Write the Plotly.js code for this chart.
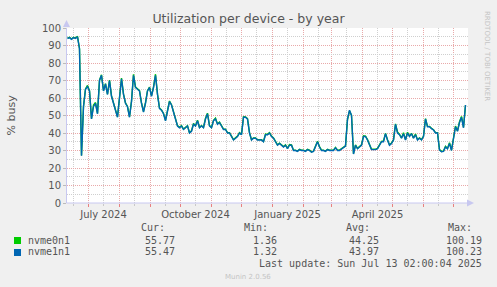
<!DOCTYPE html>
<html><head><meta charset="utf-8">
<script src="https://cdn.plot.ly/plotly-3.0.1.min.js"></script>
<style>html,body{margin:0;padding:0;background:#F0F0F0;overflow:hidden}#chart{width:497px;height:287px}</style>
</head><body><div id="chart"></div>
<script>
// ---- data ----
const seriesNames = ['nvme0n1', 'nvme1n1'];
const seriesColors = ['#00CC00', '#0066B3'];
const startDate = '2024-06-10';
const stepDays = 2;
const nvme1n1 = [
 94, 94.5, 93.5, 94.5, 94, 95, 88, 27, 55, 65,
 66.5, 64, 48, 55, 57, 51, 70, 73, 64, 68,
 62, 70, 61, 57, 52, 49, 60, 71, 62, 57,
 55, 49, 58, 73, 66, 65, 64, 57, 52, 57,
 64, 66, 61, 66, 73, 62, 54, 53, 51, 47,
 52, 58, 56, 52, 48, 44, 43, 44, 42, 43,
 44, 40, 41, 45, 44, 47, 43, 44, 43, 48,
 51, 44, 43, 47, 48, 45, 46, 44, 42, 42,
 40, 40, 38, 36, 37, 38, 40, 39, 49, 49,
 48, 40, 36, 37, 37, 36, 36, 36, 35, 39,
 39, 40, 38, 37, 35, 33, 34, 33, 32, 33,
 31, 33, 33, 30, 30, 29.5, 30.5, 30, 30, 29.5,
 30.5, 30, 29, 29.5, 32, 35, 32, 30, 30, 29.5,
 30.5, 30, 30, 30, 31.5, 30, 30, 31, 32, 32.5,
 48, 53, 50, 28, 33, 31, 32, 33, 38, 38,
 36, 33, 30.5, 30.5, 30.5, 31, 33, 35, 35, 39.6,
 36, 33, 34, 36, 45, 40, 39, 37, 39.6, 36,
 40, 38, 39.6, 37, 39, 36, 37, 36, 38, 48,
 43.6, 43.6, 42.5, 41.7, 40, 40, 30.3, 29.3, 29.5, 32,
 31, 34, 30, 37, 43.6, 41, 46, 49, 43, 56
];
const nvme0n1 = [
 94.2, 94.7, 93.7, 94.7, 94.2, 95.2, 88.3, 27.2, 55.3, 65.2,
 67.2, 64.2, 48.2, 56, 57.4, 51.2, 70.2, 73.3, 64.2, 68.2,
 62.2, 70.3, 61.2, 57.2, 52.2, 49.2, 60.3, 71.4, 62.2, 57.2,
 55.2, 49.2, 58.2, 73.5, 66.2, 65.2, 64.2, 57.2, 52.2, 57.3,
 64.2, 66.2, 61.2, 66.2, 73.6, 62.2, 54.2, 53.2, 51.2, 47.2,
 52.2, 58.3, 56.2, 52.2, 48.2, 44.2, 43.2, 44.2, 42.2, 43.2,
 44.2, 40.2, 41.2, 45.5, 44.2, 47.3, 43.2, 44.2, 43.2, 48.4,
 51.3, 44.2, 43.2, 47.2, 48.5, 45.2, 46.2, 44.2, 42.2, 42.2,
 40.2, 40.2, 38.2, 36.2, 37.2, 38.2, 40.2, 39.2, 49.3, 49.2,
 48.2, 40.2, 36.2, 37.2, 37.2, 36.2, 36.2, 36.2, 35.2, 39.4,
 39.2, 40.2, 38.2, 37.2, 35.2, 33.2, 34.2, 33.2, 32.2, 33.2,
 31.2, 33.4, 33.2, 30.2, 30.2, 29.7, 30.7, 30.2, 30.2, 29.7,
 30.7, 30.2, 29.2, 29.7, 32.2, 35.3, 32.2, 30.2, 30.2, 29.7,
 30.7, 30.2, 30.2, 30.2, 31.8, 30.2, 30.2, 31.2, 32.2, 32.7,
 47.6, 52.7, 50.2, 28.2, 33.2, 31.2, 32.2, 33.2, 38.4, 38.2,
 36.2, 33.2, 30.7, 30.7, 30.7, 31.2, 33.2, 35.2, 35.5, 39.8,
 36.2, 33.2, 34.2, 36.2, 45.2, 40.6, 39.2, 37.2, 40.2, 36.2,
 40.4, 38.2, 39.8, 37.2, 39.4, 36.2, 37.2, 36.2, 38.2, 48.2,
 43.8, 43.8, 42.7, 41.9, 40.2, 40.2, 30.5, 29.5, 29.7, 32.4,
 31.2, 34.4, 30.2, 37.3, 44, 41.2, 46.4, 49.5, 43.2, 55.8
];
const curVals = ['55.77', '55.47'];
const minVals = ['1.36', '1.32'];
const avgVals = ['44.25', '43.97'];
const maxVals = ['100.19', '100.23'];
const statHeaders = ['Cur:', 'Min:', 'Avg:', 'Max:'];
const xLabelDates = ['2024-06-16','2024-07-16','2024-08-16','2024-09-16','2024-10-16','2024-11-16','2024-12-16','2025-01-16','2025-02-16','2025-03-16','2025-04-16','2025-05-16','2025-06-16','2025-07-16'];
const xLabelTexts = ['','July 2024','','','October 2024','','','January 2025','','','April 2025','','',''];
const yTicks = [0,10,20,30,40,50,60,70,80,90,100];
const lastUpdate = 'Last update: Sun Jul 13 02:00:04 2025';
const titleText = 'Utilization per device - by year';

// ---- build ----
const t0 = Date.UTC(2024, 5, 10);
function dateOf(i){ return new Date(t0 + i*stepDays*86400000).toISOString().slice(0,10); }
const dates = nvme1n1.map((_, i) => dateOf(i));

const PL = 67, PR = 468, PT = 28, PB = 203;
const X = px => (px - PL) / (PR - PL);
const Y = py => (PB - py) / (PB - PT);

const traces = [
  {x: dates, y: nvme0n1, type: 'scatter', mode: 'lines', name: seriesNames[0], line: {color: seriesColors[0], width: 1.4}, hoverinfo: 'skip'},
  {x: dates, y: nvme1n1, type: 'scatter', mode: 'lines', name: seriesNames[1], line: {color: seriesColors[1], width: 1.4}, hoverinfo: 'skip'}
];

const txt = '#555555';
const mono = 'DejaVu Sans Mono';
const ann = [];
function A(text, px, py, anchor, opts){
  ann.push(Object.assign({text: text, xref: 'paper', yref: 'paper', x: X(px), y: Y(py), xanchor: anchor, yanchor: 'middle', showarrow: false, borderpad: 0, font: {family: mono, size: 10, color: txt}}, opts || {}));
}
const hdrX = [140, 243, 345, 447];
statHeaders.forEach((h, i) => A(h, hdrX[i], 227.7, 'left'));
const rowY = [240, 251.7];
const valR = [176, 278, 380, 483];
seriesNames.forEach((n, r) => {
  A(n, 27, rowY[r], 'left');
  A(curVals[r], valR[0], rowY[r], 'right');
  A(minVals[r], valR[1], rowY[r], 'right');
  A(avgVals[r], valR[2], rowY[r], 'right');
  A(maxVals[r], valR[3], rowY[r], 'right');
});
A(lastUpdate, 483, 263.3, 'right');
A('Munin 2.0.56', 248, 276.7, 'center', {font: {family: 'DejaVu Sans', size: 7, color: '#c4c4c4'}});
A('RRDTOOL / TOBI OETIKER', 487, 56, 'center', {textangle: 90, font: {family: 'DejaVu Sans', size: 7, color: '#c4c4c4'}});
A('% busy', 11, 115.5, 'center', {textangle: -90, font: {family: 'DejaVu Sans', size: 11, color: txt}});

const shapes = [];
// legend swatches
[237, 249].forEach((sy, i) => shapes.push({type: 'rect', xref: 'paper', yref: 'paper', x0: X(14), x1: X(21), y0: Y(sy), y1: Y(sy + 7), fillcolor: seriesColors[i], line: {width: 0}}));
// axis arrows
const axC = '#C8C8F0';
shapes.push({type: 'path', xref: 'paper', yref: 'paper', path: `M ${X(63)} ${Y(27)} L ${X(70)} ${Y(27)} L ${X(66.5)} ${Y(20)} Z`, fillcolor: axC, line: {width: 0}});
shapes.push({type: 'path', xref: 'paper', yref: 'paper', path: `M ${X(467)} ${Y(199.5)} L ${X(467)} ${Y(206.5)} L ${X(474)} ${Y(203)} Z`, fillcolor: axC, line: {width: 0}});
shapes.push({type: 'line', xref: 'paper', yref: 'paper', x0: X(66.5), x1: X(470), y0: 0, y1: 0, line: {color: axC, width: 1}});

const redGrid = '#E9A9A9', grayGrid = '#CFCFCF';
const layout = {
  width: 497, height: 287,
  margin: {l: PL, r: 497 - PR, t: PT, b: 287 - PB, pad: 0},
  paper_bgcolor: '#F0F0F0', plot_bgcolor: '#FFFFFF',
  showlegend: false,
  title: {text: titleText, x: 0.5, xref: 'container', xanchor: 'center', y: 1 - 19/287, yref: 'container', yanchor: 'middle', font: {family: 'DejaVu Sans', size: 12.5, color: txt}},
  font: {family: 'DejaVu Sans', size: 10, color: txt},
  xaxis: {
    type: 'date', range: ['2024-06-09 12:00', '2025-07-15 12:00'], fixedrange: true,
    tickmode: 'array', tickvals: xLabelDates, ticktext: xLabelTexts,
    showgrid: true, gridcolor: grayGrid, griddash: '1px,1px', gridwidth: 1,
    ticks: 'outside', ticklen: 2, tickcolor: '#C8C8C8',
    tickfont: {family: 'DejaVu Sans', size: 10, color: txt},
    showline: false, zeroline: false,
    minor: {tickmode: 'linear', tick0: '2024-01-01', dtick: 'M1', showgrid: true, gridcolor: redGrid, griddash: '1px,1px', gridwidth: 1, ticks: 'outside', ticklen: 3, tickcolor: '#E88080'}
  },
  yaxis: {
    range: [0, 100], fixedrange: true,
    tickmode: 'array', tickvals: yTicks,
    showgrid: true, gridcolor: redGrid, griddash: '1px,1px', gridwidth: 1,
    ticks: 'outside', ticklen: 3, tickcolor: '#BBBBBB',
    tickfont: {family: 'DejaVu Sans', size: 10, color: txt},
    showline: true, linecolor: axC, linewidth: 1, zeroline: false,
    minor: {tickmode: 'linear', tick0: 0, dtick: 5, showgrid: true, gridcolor: grayGrid, griddash: '1px,1px', gridwidth: 1}
  },
  annotations: ann,
  shapes: shapes
};
Plotly.newPlot('chart', traces, layout, {displayModeBar: false, staticPlot: true});
</script></body></html>
